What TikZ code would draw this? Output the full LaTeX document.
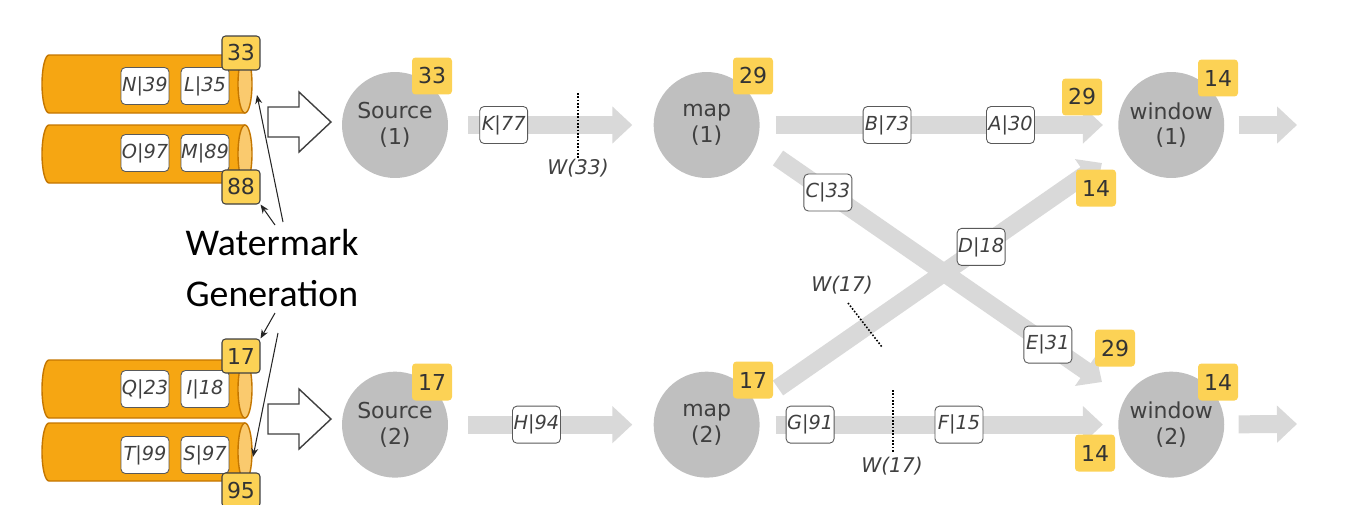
\documentclass[tikz,border=0pt]{standalone}
\usepackage{fontspec}
\setmainfont{DejaVu Sans}
\newfontfamily\wmfont{Carlito}
\usetikzlibrary{%
  arrows.meta,%
  positioning% wg. " of "
}
\definecolor{opgray}{RGB}{191,191,191}
\definecolor{flowgray}{RGB}{217,217,217}
\definecolor{tsyellow}{RGB}{252,210,85}
\definecolor{tubeorange}{RGB}{246,166,18}
\definecolor{tubeedge}{RGB}{196,118,0}
\definecolor{tubecap}{RGB}{250,202,110}
\definecolor{txtgray}{RGB}{64,64,64}

\begin{document}
\begin{tikzpicture}[x=0.02cm,y=-0.02cm,
    op/.style={circle,fill=opgray,minimum size=2.12cm,inner sep=0pt,align=center,text=txtgray,font=\fontsize{12.5}{14.5}\selectfont},
    ts/.style={rectangle,rounded corners=2pt,fill=tsyellow,minimum width=0.8cm,minimum height=0.74cm,inner sep=0pt,text=black!80,font=\fontsize{12.5}{14}\selectfont},
    tsb/.style={ts,draw=black!75,line width=0.6pt,minimum width=0.76cm,minimum height=0.68cm},
    rec/.style={rectangle,rounded corners=2.5pt,draw=black!65,fill=white,line width=0.5pt,minimum width=0.96cm,minimum height=0.74cm,inner sep=0pt,font=\fontsize{11}{13}\selectfont\itshape,text=txtgray},
    tubebody/.style={fill=tubeorange,draw=tubeedge,line width=0.8pt},
    tubeend/.style={fill=tubecap,draw=tubeedge,line width=0.8pt},
    flow/.style={color=flowgray,line width=0.36cm,-{Triangle[width=0.72cm,length=0.4cm]}},
    wline/.style={densely dotted,line width=0.9pt,black},
    wlab/.style={font=\fontsize{11.5}{13}\selectfont\itshape,text=txtgray},
    gen/.style={-{Stealth[length=5pt,width=4pt]},line width=0.6pt,black!85},
    bigarrow/.style={draw=black!75,fill=white,line width=0.8pt}]
    \useasboundingbox (0,0) rectangle (1352,504);

    %input partitions
    \filldraw[tubebody] (245,55) -- (49,55) arc[start angle=270,end angle=90,x radius=7,y radius=29] -- (245,113);
    \filldraw[tubeend] (245,84) ellipse[x radius=7,y radius=29];
    \filldraw[tubebody] (245,125) -- (49,125) arc[start angle=270,end angle=90,x radius=7,y radius=29] -- (245,183);
    \filldraw[tubeend] (245,154) ellipse[x radius=7,y radius=29];
    \filldraw[tubebody] (245,360) -- (49,360) arc[start angle=270,end angle=90,x radius=7,y radius=29] -- (245,418);
    \filldraw[tubeend] (245,389) ellipse[x radius=7,y radius=29];
    \filldraw[tubebody] (245,423) -- (49,423) arc[start angle=270,end angle=90,x radius=7,y radius=29] -- (245,481);
    \filldraw[tubeend] (245,452) ellipse[x radius=7,y radius=29];

    \node[rec] (r_N) at (145,86) {N|39};
    \node[rec] (r_L) at (205,86) {L|35};
    \node[rec] (r_O) at (145,153) {O|97};
    \node[rec] (r_M) at (205,153) {M|89};
    \node[rec] (r_Q) at (145,389) {Q|23};
    \node[rec] (r_I) at (205,389) {I|18};
    \node[rec] (r_T) at (145,455) {T|99};
    \node[rec] (r_S) at (205,455) {S|97};

    \node[tsb] (ts_p1) at (241,53) {33};
    \node[tsb] (ts_p2) at (241,187) {88};
    \node[tsb] (ts_p3) at (241,356) {17};
    \node[tsb] (ts_p4) at (241,490) {95};

    %watermark generation
    \node[font=\wmfont\fontsize{21.5}{28.5}\selectfont,align=center] (gen) at (272,268) {Watermark\\Generation};
    \coordinate (g_a) at (283,222);
    \coordinate (g_b) at (275,225);
    \coordinate (g_c) at (275,313);
    \coordinate (g_d) at (278,333);
    \coordinate (cap_1) at (257,95);
    \coordinate (cap_4) at (253,457);
    \draw[gen] (g_a) -- (cap_1);
    \draw[gen] (g_b) -- (ts_p2.south east);
    \draw[gen] (g_c) -- (ts_p3.north east);
    \draw[gen] (g_d) -- (cap_4);

    \draw[bigarrow] (268,107) -- (299,107) -- (299,92) -- (331,122) -- (299,152) -- (299,137) -- (268,137) -- cycle;
    \draw[bigarrow] (268,404) -- (299,404) -- (299,389) -- (331,419) -- (299,449) -- (299,434) -- (268,434) -- cycle;

    %operator row 1
    \node[op] (src_1) at (395,125) {Source\\(1)};
    \node[op] (map_1) [right=4.1cm of src_1] {map\\(1)};
    \node[op] (win_1) [right=7.16cm of map_1] {window\\(1)};

    %operator row 2
    \node[op] (src_2) [below=3.86cm of src_1] {Source\\(2)};
    \node[op] (map_2) [below=3.86cm of map_1] {map\\(2)};
    \node[op] (win_2) [below=3.86cm of win_1] {window\\(2)};

    \coordinate (out_1) at (1297,125);
    \coordinate (out_2) at (1297,424);
    \coordinate (c_from) at (778,158);
    \coordinate (c_to) at (1102,382);
    \coordinate (d_from) at (778,388);
    \coordinate (d_to) at (1102,163);

    %streams source -> map
    \path[flow]
    (src_1) edge[shorten <=0.4cm,shorten >=0.42cm] node[rec,pos=0.27] {K|77} (map_1)
    (src_2) edge[shorten <=0.4cm,shorten >=0.42cm] node[rec,pos=0.43] {H|94} (map_2);

    %streams map -> window
    \path[flow]
    %straight
    (map_1) edge[shorten <=0.32cm,shorten >=0.3cm] node[rec,pos=0.355] {B|73} node[rec,pos=0.7] {A|30} (win_1)
    (map_2) edge[shorten <=0.32cm,shorten >=0.3cm] node[rec,pos=0.14] {G|91} node[rec,pos=0.556] {F|15} (win_2)

    %crossing
    (c_from) edge node[rec,pos=0.154] {C|33} node[rec,pos=0.833] {E|31} (c_to)
    (d_from) edge node[rec,pos=0.627] {D|18} (d_to);

    %output
    \path[flow]
    (win_1) edge[shorten <=0.28cm] (out_1)
    (win_2) edge[shorten <=0.28cm] (out_2);

    %watermarks in flight
    \draw[wline] (578,93) -- (578,158);
    \node[wlab] (w_33) at (578,168) {W(33)};
    \draw[wline] (848,303) -- (882,347);
    \node[wlab] (w_17a) at (842,285) {W(17)};
    \draw[wline] (893,390) -- (893,453);
    \node[wlab] (w_17b) at (892,466) {W(17)};

    %current event time per operator
    \node[ts] (ts_s1) at (432,76) {33};
    \node[ts] (ts_m1) at (753,76) {29};
    \node[ts] (ts_w1) at (1218,78) {14};
    \node[ts] (ts_s2) at (432,382) {17};
    \node[ts] (ts_m2) at (753,380) {17};
    \node[ts] (ts_w2) at (1218,382) {14};

    %input watermarks of the windows
    \node[ts] (ts_in_a) at (1082,97) {29};
    \node[ts] (ts_in_b) at (1096,188) {14};
    \node[ts] (ts_in_c) at (1115,348) {29};
    \node[ts] (ts_in_d) at (1095,453) {14};
\end{tikzpicture}
\end{document}
